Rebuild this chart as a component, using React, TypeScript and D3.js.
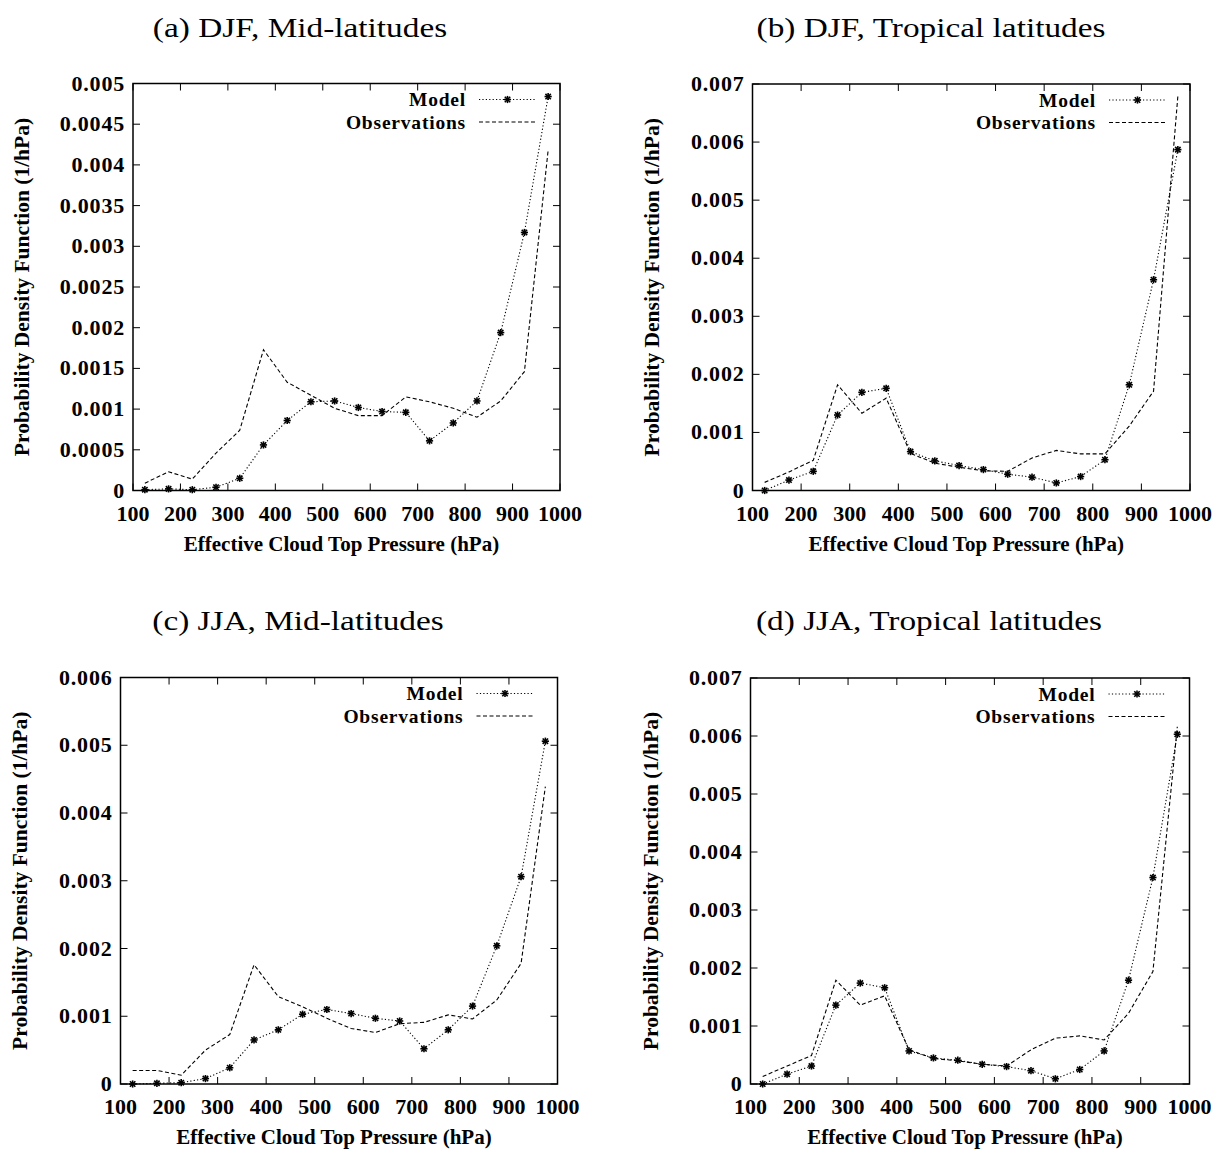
import React from "react";
import * as d3 from "d3";

// Bin centres of effective cloud top pressure (hPa)
const pressure = [125, 175, 225, 275, 325, 375, 425, 475, 525, 575, 625, 675, 725, 775, 825, 875, 925, 975];

// (a) DJF, mid-latitudes
const modelDjfMid = [0.00001, 0.00002, 0.00001, 0.00004, 0.00015, 0.00056, 0.00086, 0.00109, 0.0011, 0.00102, 0.00097, 0.00096, 0.00061, 0.00083, 0.0011, 0.00194, 0.00317, 0.00484];
const obsDjfMid = [0.00009, 0.00023, 0.00014, 0.00046, 0.00074, 0.00173, 0.00133, 0.00117, 0.00101, 0.00092, 0.00092, 0.00115, 0.00109, 0.00101, 0.0009, 0.0011, 0.00146, 0.00418];

// (b) DJF, tropical latitudes
const modelDjfTrop = [0.0, 0.00018, 0.00033, 0.0013, 0.00169, 0.00176, 0.00067, 0.00051, 0.00043, 0.00036, 0.00028, 0.00023, 0.00013, 0.00024, 0.00053, 0.00182, 0.00363, 0.00587];
const obsDjfTrop = [0.00014, 0.00032, 0.00052, 0.00182, 0.00133, 0.00159, 0.00064, 0.00047, 0.0004, 0.00034, 0.00033, 0.00056, 0.00069, 0.00063, 0.00063, 0.00111, 0.00171, 0.00679];

// (c) JJA, mid-latitudes
const modelJjaMid = [0.0, 0.00001, 0.00002, 0.00008, 0.00024, 0.00065, 0.0008, 0.00103, 0.0011, 0.00104, 0.00097, 0.00093, 0.00052, 0.0008, 0.00115, 0.00204, 0.00306, 0.00506];
const obsJjaMid = [0.0002, 0.0002, 0.00013, 0.0005, 0.00073, 0.00176, 0.00129, 0.00114, 0.00097, 0.00082, 0.00076, 0.00089, 0.00091, 0.00102, 0.00096, 0.00124, 0.00178, 0.00439];

// (d) JJA, tropical latitudes
const modelJjaTrop = [0.0, 0.00017, 0.00031, 0.00136, 0.00174, 0.00166, 0.00057, 0.00045, 0.00041, 0.00034, 0.0003, 0.00023, 0.00009, 0.00025, 0.00057, 0.00179, 0.00356, 0.00603];
const obsJjaTrop = [0.00013, 0.00031, 0.00049, 0.00179, 0.00136, 0.00152, 0.00059, 0.00044, 0.0004, 0.00034, 0.00031, 0.00059, 0.00079, 0.00083, 0.00076, 0.00122, 0.00194, 0.00616];

// Axis ticks
const xTicks = [100, 200, 300, 400, 500, 600, 700, 800, 900, 1000];
const yTicksMid = [0, 0.0005, 0.001, 0.0015, 0.002, 0.0025, 0.003, 0.0035, 0.004, 0.0045, 0.005];
const yTickLabelsMid = ["0", "0.0005", "0.001", "0.0015", "0.002", "0.0025", "0.003", "0.0035", "0.004", "0.0045", "0.005"];
const yTicksTrop = [0, 0.001, 0.002, 0.003, 0.004, 0.005, 0.006, 0.007];
const yTickLabelsTrop = ["0", "0.001", "0.002", "0.003", "0.004", "0.005", "0.006", "0.007"];
const yTicksJjaMid = [0, 0.001, 0.002, 0.003, 0.004, 0.005, 0.006];
const yTickLabelsJjaMid = ["0", "0.001", "0.002", "0.003", "0.004", "0.005", "0.006"];

const titles = ["(a) DJF, Mid-latitudes", "(b) DJF, Tropical latitudes", "(c) JJA, Mid-latitudes", "(d) JJA, Tropical latitudes"];
const legendLabels = ["Model", "Observations"];
const xAxisTitle = "Effective Cloud Top Pressure (hPa)";
const yAxisTitle = "Probability Density Function (1/hPa)";

type PanelSpec = {
  title: string;
  model: number[];
  obs: number[];
  yTicks: number[];
  yLabels: string[];
  left: number;
  right: number;
  top: number;
  bottom: number;
  titleX: number;
  titleY: number;
  yTitleX: number;
};

const panels: PanelSpec[] = [
  { title: titles[0], model: modelDjfMid, obs: obsDjfMid, yTicks: yTicksMid, yLabels: yTickLabelsMid, left: 133, right: 560, top: 83.5, bottom: 490.5, titleX: 300, titleY: 37, yTitleX: 29 },
  { title: titles[1], model: modelDjfTrop, obs: obsDjfTrop, yTicks: yTicksTrop, yLabels: yTickLabelsTrop, left: 752.5, right: 1190, top: 84, bottom: 490.5, titleX: 931, titleY: 37, yTitleX: 659 },
  { title: titles[2], model: modelJjaMid, obs: obsJjaMid, yTicks: yTicksJjaMid, yLabels: yTickLabelsJjaMid, left: 120.5, right: 557.5, top: 677.5, bottom: 1084, titleX: 298, titleY: 630, yTitleX: 27 },
  { title: titles[3], model: modelJjaTrop, obs: obsJjaTrop, yTicks: yTicksTrop, yLabels: yTickLabelsTrop, left: 750.5, right: 1189.5, top: 678, bottom: 1084, titleX: 929, titleY: 630, yTitleX: 658 },
];

const boldFont = "'Liberation Serif', 'Times New Roman', serif";

function Star({ x, y }: { x: number; y: number }) {
  const r = 3.6;
  const d = r * 0.75;
  return (
    <g stroke="#000" strokeWidth={1.6}>
      <line x1={x - r} y1={y} x2={x + r} y2={y} />
      <line x1={x} y1={y - r} x2={x} y2={y + r} />
      <line x1={x - d} y1={y - d} x2={x + d} y2={y + d} />
      <line x1={x - d} y1={y + d} x2={x + d} y2={y - d} />
    </g>
  );
}

function Panel({ p }: { p: PanelSpec }) {
  const x = d3.scaleLinear().domain([100, 1000]).range([p.left, p.right]);
  const yMax = p.yTicks[p.yTicks.length - 1];
  const y = d3.scaleLinear().domain([0, yMax]).range([p.bottom, p.top]);
  const line = d3
    .line<number>()
    .x((_, i) => x(pressure[i]))
    .y((v) => y(v));
  const tick = 7;
  const cx = (p.left + p.right) / 2;
  const cy = (p.top + p.bottom) / 2;
  const legX = p.right - 94;
  const lineX1 = p.right - 81;
  const lineX2 = p.right - 24;
  const legY1 = p.top + 16;
  const legY2 = p.top + 38.5;

  return (
    <g>
      <text
        transform={`translate(${p.titleX},${p.titleY}) scale(1.19,1)`}
        textAnchor="middle"
        fontFamily="'Liberation Serif', serif"
        fontSize={28}
      >
        {p.title}
      </text>

      {/* ticks, mirrored on all four sides */}
      <g stroke="#000" strokeWidth={1}>
        {xTicks.map((t) => (
          <g key={"xt" + t}>
            <line x1={x(t)} x2={x(t)} y1={p.bottom} y2={p.bottom - tick} />
            <line x1={x(t)} x2={x(t)} y1={p.top} y2={p.top + tick} />
          </g>
        ))}
        {p.yTicks.map((t) => (
          <g key={"yt" + t}>
            <line x1={p.left} x2={p.left + tick} y1={y(t)} y2={y(t)} />
            <line x1={p.right} x2={p.right - tick} y1={y(t)} y2={y(t)} />
          </g>
        ))}
      </g>

      {/* tick labels */}
      <g fontFamily={boldFont} fontWeight="bold" fontSize={22}>
        {xTicks.map((t) => (
          <text key={"xl" + t} x={x(t)} y={p.bottom + 30} textAnchor="middle">
            {t}
          </text>
        ))}
        {p.yTicks.map((t, i) => (
          <text key={"yl" + t} x={p.left - 8} y={y(t) + 7} textAnchor="end" letterSpacing={0.8}>
            {p.yLabels[i]}
          </text>
        ))}
      </g>

      {/* axis titles */}
      <text x={cx - 5} y={p.bottom + 60} textAnchor="middle" fontFamily={boldFont} fontWeight="bold" fontSize={21}>
        {xAxisTitle}
      </text>
      <text
        transform={`translate(${p.yTitleX},${cy}) rotate(-90)`}
        textAnchor="middle"
        fontFamily={boldFont}
        fontWeight="bold"
        fontSize={21.5}
      >
        {yAxisTitle}
      </text>

      {/* series */}
      <path d={line(p.obs) ?? ""} fill="none" stroke="#000" strokeWidth={1.1} strokeDasharray="4,2.5" />
      <path d={line(p.model) ?? ""} fill="none" stroke="#000" strokeWidth={1.1} strokeDasharray="1.2,2.2" />
      {p.model.map((v, i) => (
        <Star key={"m" + i} x={x(pressure[i])} y={y(v)} />
      ))}

      {/* legend */}
      <g fontFamily={boldFont} fontWeight="bold" fontSize={19.5} letterSpacing={0.8}>
        <text x={legX} y={legY1 + 6.5} textAnchor="end">
          {legendLabels[0]}
        </text>
        <text x={legX} y={legY2 + 6.5} textAnchor="end">
          {legendLabels[1]}
        </text>
      </g>
      <line x1={lineX1} x2={lineX2} y1={legY1} y2={legY1} stroke="#000" strokeWidth={1.1} strokeDasharray="1.2,2.2" />
      <Star x={(lineX1 + lineX2) / 2} y={legY1} />
      <line x1={lineX1} x2={lineX2} y1={legY2} y2={legY2} stroke="#000" strokeWidth={1.1} strokeDasharray="4,2.5" />

      {/* frame */}
      <rect x={p.left} y={p.top} width={p.right - p.left} height={p.bottom - p.top} fill="none" stroke="#000" strokeWidth={1.5} />
    </g>
  );
}

export default function App() {
  return (
    <svg width={1214} height={1149} style={{ position: "absolute", left: 0, top: 0, background: "#fff" }}>
      <rect width={1214} height={1149} fill="#fff" />
      {panels.map((p, i) => (
        <Panel key={i} p={p} />
      ))}
    </svg>
  );
}
